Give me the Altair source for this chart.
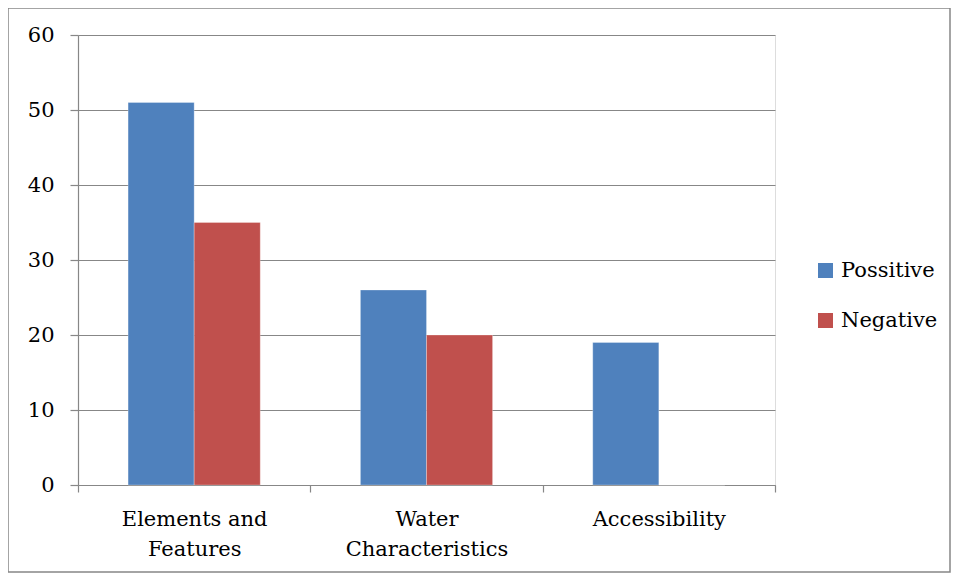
import altair as alt
import pandas as pd

categories = ["Elements and Features", "Water Characteristics", "Accessibility"]
label_lines = [["Elements and", "Features"], ["Water", "Characteristics"], ["Accessibility"]]
series = ["Possitive", "Negative"]
possitive = [51, 26, 19]
negative = [35, 20, 0]
colors = ["#4F81BD", "#C0504D"]
y_ticks = [0, 10, 20, 30, 40, 50, 60]

rows = []
for c, p, n in zip(categories, possitive, negative):
    rows.append({"category": c, "series": "Possitive", "value": p})
    rows.append({"category": c, "series": "Negative", "value": n})
df = pd.DataFrame(rows)

label_expr = " : ".join(
    f"datum.label == '{c}' ? {repr(l)}" for c, l in zip(categories, label_lines)
) + " : datum.label"

FONT = "DejaVu Serif"
GRID = "#878787"
FS = 21

bars = alt.Chart(df).mark_bar(stroke="white", strokeOpacity=0.35, strokeWidth=0.8).encode(
    x=alt.X("category:N", sort=categories, title=None,
            scale=alt.Scale(paddingInner=0, paddingOuter=0),
            axis=alt.Axis(labelAngle=0, labelExpr=label_expr, labelFont=FONT,
                          labelFontSize=FS, labelColor="black", labelLineHeight=30,
                          labelPadding=16, labelBaseline="top",
                          tickBand="extent", tickSize=7, tickColor=GRID,
                          domainColor=GRID, domainWidth=1.2, tickWidth=1.2, grid=False)),
    xOffset=alt.XOffset("series:N", sort=series,
                        scale=alt.Scale(paddingInner=0, paddingOuter=0.758)),
    y=alt.Y("value:Q", title=None,
            scale=alt.Scale(domain=[0, 60], nice=False),
            axis=alt.Axis(values=y_ticks, labelFont=FONT, labelFontSize=FS,
                          labelColor="black", labelPadding=16, tickSize=8,
                          tickColor=GRID, domainColor=GRID, gridColor=GRID,
                          gridWidth=1.2, tickWidth=1.2, domainWidth=1.2, grid=True)),
    color=alt.Color("series:N", sort=series,
                    scale=alt.Scale(domain=series, range=colors),
                    legend=alt.Legend(title=None, orient="none", legendX=737, legendY=225,
                                      symbolType="square", symbolSize=225,
                                      symbolStrokeWidth=0, labelFont=FONT,
                                      labelFontSize=FS, labelColor="black",
                                      labelOffset=5, rowPadding=28)),
)

border = alt.Chart(alt.Data(values=[{}])).mark_rect(
    fill=None, stroke="#868686", strokeWidth=1.5, clip=False
).encode(
    x=alt.value(-70), x2=alt.value(872),
    y=alt.value(-27), y2=alt.value(537),
)

chart = alt.layer(border, bars).properties(
    width=697, height=450,
    autosize=alt.AutoSizeParams(type="none"),
    padding={"left": 70, "top": 27, "right": 176, "bottom": 88},
).configure_view(stroke=None).configure(background="white", font=FONT)

chart.save("out.html", embed_options={"renderer": "svg", "actions": False})
